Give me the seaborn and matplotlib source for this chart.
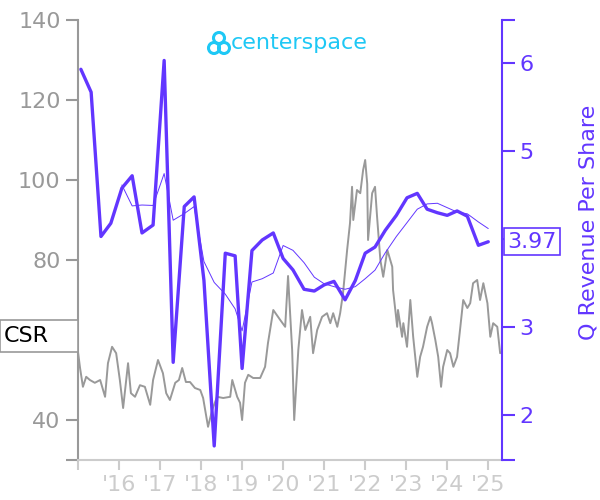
import pandas as pd
import seaborn as sns
import matplotlib.pyplot as plt
from matplotlib.patches import Rectangle, Ellipse
from matplotlib.transforms import blended_transform_factory

# share price (decimal year, price)
price_year = [2015.00, 2015.05, 2015.12, 2015.20, 2015.29, 2015.41, 2015.54, 2015.66, 2015.73, 2015.83,
              2015.93, 2016.02, 2016.10, 2016.22, 2016.29, 2016.39, 2016.51, 2016.63, 2016.76, 2016.83,
              2016.95, 2017.07, 2017.15, 2017.24, 2017.37, 2017.46, 2017.54, 2017.63, 2017.73, 2017.85,
              2017.98, 2018.05, 2018.17, 2018.27, 2018.39, 2018.54, 2018.71, 2018.76, 2018.88, 2018.95,
              2019.00, 2019.07, 2019.15, 2019.27, 2019.44, 2019.56, 2019.63, 2019.76, 2019.93, 2020.05,
              2020.12, 2020.22, 2020.27, 2020.37, 2020.46, 2020.54, 2020.66, 2020.73, 2020.83, 2020.95,
              2021.07, 2021.15, 2021.22, 2021.32, 2021.39, 2021.46, 2021.56, 2021.63, 2021.68, 2021.71,
              2021.80, 2021.88, 2021.95, 2022.00, 2022.05, 2022.07, 2022.17, 2022.24, 2022.29, 2022.37,
              2022.44, 2022.54, 2022.66, 2022.68, 2022.78, 2022.80, 2022.90, 2022.93, 2023.02, 2023.10,
              2023.17, 2023.27, 2023.34, 2023.41, 2023.51, 2023.59, 2023.63, 2023.71, 2023.78, 2023.85,
              2023.90, 2024.00, 2024.07, 2024.15, 2024.24, 2024.32, 2024.39, 2024.49, 2024.56, 2024.63,
              2024.73, 2024.80, 2024.88, 2024.98, 2025.05, 2025.12, 2025.22, 2025.29]
price = [57.0, 53.0, 48.3, 50.8, 50.0, 49.3, 50.0, 45.8, 54.2, 58.3,
         56.7, 50.0, 43.0, 54.2, 46.7, 45.8, 48.7, 48.3, 43.8, 50.0,
         55.0, 51.7, 46.7, 45.0, 49.3, 50.0, 53.0, 49.5, 49.5, 48.0,
         47.5, 45.5, 38.3, 42.5, 45.8, 45.5, 45.8, 50.0, 45.8, 44.3,
         40.0, 49.3, 51.3, 50.5, 50.5, 53.3, 59.2, 67.5, 65.0, 63.3,
         76.0, 57.5, 40.0, 57.5, 67.5, 62.5, 65.8, 56.7, 62.5, 65.8,
         66.7, 64.2, 66.7, 63.3, 66.7, 71.7, 82.5, 89.2, 98.3, 90.0,
         97.5, 96.7, 102.5, 105.0, 99.0, 85.0, 96.7, 98.3, 90.8, 80.0,
         75.8, 82.5, 78.3, 72.5, 63.3, 67.5, 60.8, 64.2, 58.3, 70.0,
         60.8, 50.8, 55.8, 58.3, 63.3, 65.8, 64.2, 60.0, 55.8, 48.3,
         53.3, 57.5, 56.7, 53.3, 55.8, 63.3, 70.0, 68.0, 69.2, 74.2,
         75.0, 70.0, 74.2, 69.2, 60.8, 64.2, 63.3, 56.7]

# quarterly revenue per share
rev_year = [2015.07, 2015.32, 2015.56, 2015.80, 2016.07, 2016.32, 2016.56, 2016.83, 2017.10, 2017.32,
            2017.59, 2017.83, 2018.07, 2018.32, 2018.59, 2018.83, 2019.00, 2019.24, 2019.49, 2019.76,
            2020.00, 2020.24, 2020.51, 2020.76, 2021.00, 2021.24, 2021.51, 2021.76, 2022.00, 2022.24,
            2022.49, 2022.76, 2023.02, 2023.27, 2023.51, 2023.76, 2024.00, 2024.24, 2024.49, 2024.76,
            2025.00]
rev = [5.93, 5.67, 4.03, 4.18, 4.58, 4.72, 4.07, 4.16, 6.03, 2.60,
       4.37, 4.48, 3.53, 1.65, 3.84, 3.81, 2.53, 3.87, 3.99, 4.07,
       3.78, 3.65, 3.43, 3.41, 3.48, 3.52, 3.31, 3.53, 3.84, 3.91,
       4.10, 4.27, 4.47, 4.52, 4.34, 4.30, 4.27, 4.32, 4.26, 3.93,
       3.97]

year_ticks = list(range(2015, 2026))
year_labels = [''] + ["'%02d" % (y % 100) for y in year_ticks[1:]]
left_ticks = [40, 60, 80, 100, 120, 140]
left_labels = ['40', '', '80', '100', '120', '140']   # 60 sits under the CSR box
right_ticks = [2, 3, 4, 5, 6]
right_labels = ['2', '3', '', '5', '6']               # 4 sits under the last value box

grey = '#999999'
light = '#cccccc'
purple = '#6236ff'
cyan = '#1ec8f5'

df_rev = pd.DataFrame({'year': rev_year, 'rev': rev})
df_rev['avg'] = df_rev['rev'].rolling(4).mean()
df_avg = df_rev.iloc[4:]

sns.set_style('white')
plt.rcParams['font.family'] = ['DejaVu Sans']

fig = plt.figure(figsize=(6, 5), dpi=100)
ax1 = fig.add_axes([0.13, 0.08, 0.707, 0.88])
ax2 = ax1.twinx()

sns.lineplot(x=price_year, y=price, ax=ax1, color=grey, linewidth=1.4)
sns.lineplot(data=df_rev, x='year', y='rev', ax=ax2, color=purple, linewidth=2.4)
sns.lineplot(data=df_avg, x='year', y='avg', ax=ax2, color=purple, linewidth=0.7)

ax1.set_xlim(2015.0, 2025.34)
ax1.set_ylim(30, 140)
ax2.set_ylim(1.49, 6.49)

ax1.set_xticks(year_ticks)
ax1.set_xticklabels(year_labels)
ax1.set_yticks(left_ticks)
ax1.set_yticklabels(left_labels)
ax1.set_yticks([30], minor=True)
ax2.set_yticks(right_ticks)
ax2.set_yticklabels(right_labels)
ax2.set_yticks([1.49, 6.49], minor=True)
ax1.set_xlabel('')
ax1.set_ylabel('')

for s in ['top', 'right']:
    ax1.spines[s].set_visible(False)
for s in ['top', 'left', 'bottom']:
    ax2.spines[s].set_visible(False)
ax1.spines['left'].set_color(grey)
ax1.spines['left'].set_linewidth(1.5)
ax1.spines['bottom'].set_color(light)
ax1.spines['bottom'].set_linewidth(1.5)
ax2.spines['right'].set_color(purple)
ax2.spines['right'].set_linewidth(1.5)

ax1.tick_params(axis='y', which='both', colors=grey, labelsize=16, length=9, width=1.5, left=True)
ax1.tick_params(axis='x', colors=light, labelsize=16, length=7, width=1.5, bottom=True)
ax2.tick_params(axis='y', which='both', colors=purple, labelsize=16, length=9, width=1.5, right=True)

ax2.set_ylabel('Q Revenue Per Share', color=purple, fontsize=16)
ax2.yaxis.set_label_coords(1.18, 0.54)

# CSR label on the left
tr = blended_transform_factory(ax1.transAxes, ax1.transData)
ax1.add_patch(Rectangle((-0.184, 57), 0.184, 8, transform=tr, facecolor='white',
                        edgecolor=grey, linewidth=1.2, clip_on=False, zorder=10))
ax1.text(-0.176, 61, 'CSR', transform=tr, ha='left', va='center', fontsize=16,
         color='black', zorder=11, clip_on=False)

# last value label on the right
ax2.text(1.012, rev[-1], '%.2f' % rev[-1], transform=blended_transform_factory(ax2.transAxes, ax2.transData),
         ha='left', va='center', fontsize=16, color=purple, zorder=11, clip_on=False,
         bbox=dict(boxstyle='square,pad=0.15', facecolor='white', edgecolor=purple, linewidth=1.2))

# logo
for cx, cy in [(219, 38), (214, 48), (224, 48)]:
    fig.patches.append(Ellipse((cx / 600, 1 - cy / 500), 11 / 600, 11 / 500, transform=fig.transFigure,
                               fill=False, edgecolor=cyan, linewidth=2.2))
fig.text(231 / 600, 1 - 43 / 500, 'centerspace', color=cyan, fontsize=16, ha='left', va='center')

plt.savefig('out.png', dpi=100)
